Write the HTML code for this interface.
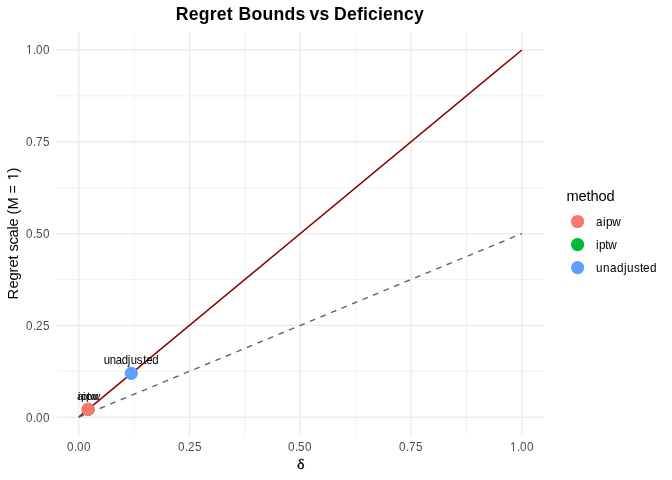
<!DOCTYPE html>
<html><head><meta charset="utf-8"><title>Regret Bounds vs Deficiency</title>
<style>
html,body{margin:0;padding:0;background:#fff;}
body{width:672px;height:480px;overflow:hidden;font-family:"Liberation Sans",sans-serif;}
svg{display:block;will-change:transform;}
text{font-family:"Liberation Sans",sans-serif;fill:#000;}
</style></head><body>
<svg width="672" height="480" viewBox="0 0 672 480">
<rect x="0" y="0" width="672" height="480" fill="#ffffff"/>
<g stroke="#EBEBEB" stroke-width="0.71" fill="none">
<line x1="56.55" x2="544.0" y1="371.30" y2="371.30"/>
<line y1="31.64" y2="435.56" x1="134.09" x2="134.09"/>
<line x1="56.55" x2="544.0" y1="279.50" y2="279.50"/>
<line y1="31.64" y2="435.56" x1="244.88" x2="244.88"/>
<line x1="56.55" x2="544.0" y1="187.70" y2="187.70"/>
<line y1="31.64" y2="435.56" x1="355.67" x2="355.67"/>
<line x1="56.55" x2="544.0" y1="95.90" y2="95.90"/>
<line y1="31.64" y2="435.56" x1="466.46" x2="466.46"/>
</g>
<g stroke="#EBEBEB" stroke-width="1.42" fill="none">
<line x1="56.55" x2="544.0" y1="417.20" y2="417.20"/>
<line y1="31.64" y2="435.56" x1="78.70" x2="78.70"/>
<line x1="56.55" x2="544.0" y1="325.40" y2="325.40"/>
<line y1="31.64" y2="435.56" x1="189.49" x2="189.49"/>
<line x1="56.55" x2="544.0" y1="233.60" y2="233.60"/>
<line y1="31.64" y2="435.56" x1="300.28" x2="300.28"/>
<line x1="56.55" x2="544.0" y1="141.80" y2="141.80"/>
<line y1="31.64" y2="435.56" x1="411.06" x2="411.06"/>
<line x1="56.55" x2="544.0" y1="50.00" y2="50.00"/>
<line y1="31.64" y2="435.56" x1="521.85" x2="521.85"/>
</g>
<line x1="78.70" y1="417.20" x2="521.85" y2="50.00" stroke="#8B0000" stroke-width="1.5" stroke-linecap="butt"/>
<line x1="78.70" y1="417.20" x2="521.85" y2="233.60" stroke="#666666" stroke-width="1.42" stroke-dasharray="5.69 5.69" stroke-linecap="butt"/>
<circle cx="88.1" cy="409.3" r="6.6" fill="#00BA38"/>
<circle cx="88.1" cy="409.3" r="6.6" fill="#F8766D"/>
<circle cx="131.3" cy="373.3" r="6.6" fill="#619CFF"/>
<g transform="translate(0,399.50) scale(1,1.0)"><text x="77.00 83.00 86.00 92.00" y="0.00" style="font-size:11.381px;">aipw</text></g>
<g transform="translate(0,399.50) scale(1,1.0)"><text x="77.90 80.90 86.90 89.90" y="0.00" style="font-size:11.381px;">iptw</text></g>
<g transform="translate(0,363.70) scale(1,1.09)"><text x="103.80 109.80 115.80 121.80 127.80 130.80 136.80 143.30 146.30 152.30" y="0.00" style="font-size:11.381px;">unadjusted</text></g>
<g transform="translate(0,421.90) scale(1,1.12)"><text x="26.00 33.00 36.00 43.00" y="0.00" style="font-size:11.7333px;fill:#4D4D4D;">0.00</text></g>
<g transform="translate(0,451.20) scale(1,1.13)"><text x="67.00 74.00 77.00 84.00" y="0.00" style="font-size:11.7333px;fill:#4D4D4D;">0.00</text></g>
<g transform="translate(0,329.90) scale(1,1.12)"><text x="26.00 33.00 36.00 43.00" y="0.00" style="font-size:11.7333px;fill:#4D4D4D;">0.25</text></g>
<g transform="translate(0,451.20) scale(1,1.13)"><text x="178.00 185.00 188.00 195.00" y="0.00" style="font-size:11.7333px;fill:#4D4D4D;">0.25</text></g>
<g transform="translate(0,237.90) scale(1,1.12)"><text x="26.00 33.00 36.00 43.00" y="0.00" style="font-size:11.7333px;fill:#4D4D4D;">0.50</text></g>
<g transform="translate(0,451.20) scale(1,1.13)"><text x="288.00 295.00 298.00 305.00" y="0.00" style="font-size:11.7333px;fill:#4D4D4D;">0.50</text></g>
<g transform="translate(0,145.90) scale(1,1.12)"><text x="26.00 33.00 36.00 43.00" y="0.00" style="font-size:11.7333px;fill:#4D4D4D;">0.75</text></g>
<g transform="translate(0,451.20) scale(1,1.13)"><text x="399.00 406.00 409.00 416.00" y="0.00" style="font-size:11.7333px;fill:#4D4D4D;">0.75</text></g>
<g transform="translate(0,53.90) scale(1,1.12)"><text x="26.00 33.00 36.00 43.00" y="0.00" style="font-size:11.7333px;fill:#4D4D4D;"> .00</text><path d="M515 0V1237L197 1010V1180L530 1409H696V0Z" transform="translate(26.00,0.00) scale(0.005729,-0.005586)" style="fill:#4D4D4D"/></g>
<g transform="translate(0,451.20) scale(1,1.13)"><text x="510.00 517.00 520.00 527.00" y="0.00" style="font-size:11.7333px;fill:#4D4D4D;"> .00</text><path d="M515 0V1237L197 1010V1180L530 1409H696V0Z" transform="translate(510.00,0.00) scale(0.005729,-0.005586)" style="fill:#4D4D4D"/></g>
<text x="0" y="0" transform="translate(300.8,468.5) scale(0.98,0.88)" text-anchor="middle" style="font-family:'Liberation Serif',serif;font-size:16.4px;fill:#000;stroke:#000;stroke-width:0.3px">δ</text>
<g transform="translate(18.2,233.5) rotate(-90) scale(1,1.045)"><text x="-66.00 -55.00 -47.00 -39.00 -34.00 -26.00 -22.00 -18.00 -11.00 -4.00 4.00 7.00 15.00 19.00 24.00 36.00 40.00 49.00 53.00 61.00" y="0.00" style="font-size:14.6667px;">Regret scale (M =  )</text><path d="M515 0V1237L197 1010V1180L530 1409H696V0Z" transform="translate(53.00,0.00) scale(0.007161,-0.006982)" style="fill:#000"/></g>
<text x="175.80 188.80 198.80 209.80 216.80 226.80" y="20.30" style="font-size:17.6px;font-weight:bold;">Regret</text>
<text x="238.50 251.50 262.50 273.50 284.50 295.50" y="20.30" style="font-size:17.6px;font-weight:bold;">Bounds</text>
<text x="309.45 319.45" y="20.30" style="font-size:17.6px;font-weight:bold;">vs</text>
<text x="334.10 347.10 357.10 363.10 368.10 378.10 383.10 393.10 404.10 414.10" y="20.30" style="font-size:17.6px;font-weight:bold;">Deficiency</text>
<g transform="translate(0,201.20) scale(1,1.03)"><text x="566.40 578.40 586.40 590.40 598.40 606.40" y="0.00" style="font-size:14.6667px;">method</text></g>
<circle cx="577.6" cy="221.50" r="6.6" fill="#F8766D"/>
<g transform="translate(0,225.70) scale(1,1.12)"><text x="595.90 602.90 605.90 612.20" y="0.00" style="font-size:11.7333px;">aipw</text></g>
<circle cx="577.6" cy="244.54" r="6.6" fill="#00BA38"/>
<g transform="translate(0,248.74) scale(1,1.12)"><text x="595.90 598.90 605.20 608.20" y="0.00" style="font-size:11.7333px;">iptw</text></g>
<circle cx="577.6" cy="267.58" r="6.6" fill="#619CFF"/>
<g transform="translate(0,271.78) scale(1,1.12)"><text x="595.90 602.90 609.90 616.90 623.90 626.90 633.90 639.90 642.90 649.90" y="0.00" style="font-size:11.7333px;">unadjusted</text></g>
</svg>
</body></html>
